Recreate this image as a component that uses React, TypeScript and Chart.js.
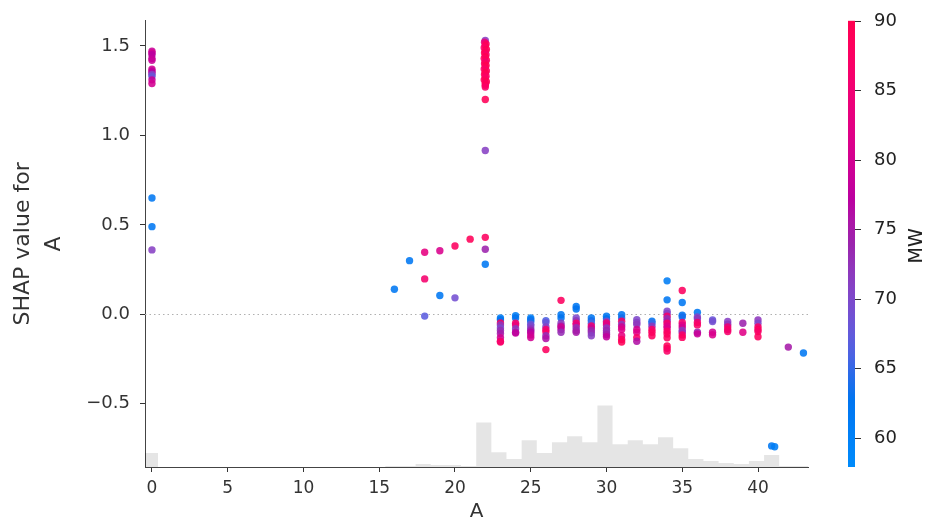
import React, { useEffect, useRef } from 'react';
import { Chart, registerables } from 'chart.js';

Chart.register(...registerables);
Chart.defaults.font.family = "'DejaVu Sans', sans-serif";

// ---------- axis ranges & ticks ----------
const xRange = [-0.46, 43.3];
const yRange = [-0.853, 1.64];
const mwRange = [57.9, 90];
const mwTickValues = [60, 65, 70, 75, 80, 85, 90];
const yAxisTitle = ['SHAP value for', 'A'];
const xAxisTitle = 'A';
const colorTitle = 'MW';

// ---------- histogram of A (bin left edges, counts) ----------
const histEdges = [-0.6, 0.4, 15.4, 16.4, 17.4, 18.4, 19.4, 20.4, 21.4, 22.4, 23.4, 24.4, 25.4, 26.4, 27.4, 28.4, 29.4, 30.4, 31.4, 32.4, 33.4, 34.4, 35.4, 36.4, 37.4, 38.4, 39.4, 40.4, 41.4, 42.4, 43.4];
const histCounts = [14, 0, 1, 1, 3, 2, 2, 1, 45, 15, 8, 27, 14, 25, 31, 25, 62, 23, 27, 23, 30, 19, 8, 6, 4, 3, 6, 12, 1, 1, 0];

// ---------- scatter points: A value, SHAP value, MW (colour) ----------
const aValues = [
  // A = 0
  0, 0, 0, 0, 0, 0, 0, 0, 0, 0, 0, 0, 0, 0, 0,
  // A = 16..21
  16, 17, 18, 18, 18, 19, 19, 20, 20, 21,
  // A = 22
  22, 21.95, 22.05, 22, 21.93, 22.07, 22, 21.95, 22.05, 22, 21.93, 22.07,
  22, 21.95, 22.05, 22, 21.93, 22.07, 22, 21.95, 22.05, 22, 21.93, 22.07,
  22, 22, 22, 22, 22, 22, 22, 22,
  // A = 23
  23, 23, 23, 23, 23, 23, 23, 23, 23, 23,
  // A = 24
  24, 24, 24, 24, 24, 24, 24,
  // A = 25
  25, 25, 25, 25, 25, 25, 25, 25, 25, 25,
  // A = 26
  26, 26, 26, 26, 26, 26, 26, 26,
  // A = 27
  27, 27, 27, 27, 27, 27, 27, 27,
  // A = 28
  28, 28, 28, 28, 28, 28, 28, 28, 28,
  // A = 29
  29, 29, 29, 29, 29, 29, 29, 29,
  // A = 30
  30, 30, 30, 30, 30, 30, 30, 30, 30, 30,
  // A = 31
  31, 31, 31, 31, 31, 31, 31, 31, 31,
  // A = 32
  32, 32, 32, 32, 32, 32, 32,
  // A = 33
  33, 33, 33, 33, 33, 33,
  // A = 34
  34, 34, 34, 34, 34, 34, 34, 34, 34, 34, 34, 34, 34, 34, 34, 34,
  // A = 35
  35, 35, 35, 35, 35, 35, 35, 35, 35, 35, 35,
  // A = 36
  36, 36, 36, 36, 36, 36, 36,
  // A = 37
  37, 37, 37, 37,
  // A = 38
  38, 38, 38, 38, 38,
  // A = 39
  39, 39,
  // A = 40
  40, 40, 40, 40, 40, 40,
  // A = 41..43
  40.9, 41.1, 42, 43,
];

const shapValues = [
  // A = 0
  1.47, 1.46, 1.45, 1.43, 1.42, 1.37, 1.36, 1.35, 1.34, 1.33, 1.31, 1.29, 0.65, 0.49, 0.36,
  // A = 16..21
  0.14, 0.30, 0.347, 0.198, -0.01, 0.355, 0.105, 0.382, 0.092, 0.42,
  // A = 22
  1.53, 1.52, 1.51, 1.50, 1.49, 1.48, 1.47, 1.46, 1.45, 1.44, 1.43, 1.42,
  1.41, 1.40, 1.39, 1.38, 1.37, 1.36, 1.35, 1.34, 1.33, 1.32, 1.31, 1.30,
  1.29, 1.28, 1.27, 1.20, 0.915, 0.43, 0.364, 0.28,
  // A = 23
  -0.02, -0.03, -0.048, -0.06, -0.076, -0.09, -0.107, -0.13, -0.15, -0.155,
  // A = 24
  -0.007, -0.02, -0.05, -0.06, -0.08, -0.1, -0.105,
  // A = 25
  -0.02, -0.03, -0.04, -0.055, -0.065, -0.08, -0.09, -0.1, -0.115, -0.13,
  // A = 26
  -0.035, -0.045, -0.07, -0.085, -0.098, -0.12, -0.135, -0.197,
  // A = 27
  0.078, -0.002, -0.02, -0.05, -0.065, -0.07, -0.085, -0.1,
  // A = 28
  0.044, 0.03, -0.02, -0.035, -0.05, -0.06, -0.075, -0.09, -0.1,
  // A = 29
  -0.02, -0.035, -0.05, -0.065, -0.076, -0.09, -0.103, -0.12,
  // A = 30
  -0.011, -0.025, -0.039, -0.048, -0.06, -0.076, -0.09, -0.103, -0.113, -0.125,
  // A = 31
  -0.002, -0.02, -0.039, -0.057, -0.07, -0.085, -0.12, -0.14, -0.155,
  // A = 32
  -0.03, -0.045, -0.057, -0.085, -0.1, -0.13, -0.15,
  // A = 33
  -0.039, -0.05, -0.066, -0.085, -0.1, -0.12,
  // A = 34
  0.187, 0.081, 0.017, 0.005, -0.011, -0.025, -0.039, -0.05, -0.065, -0.076, -0.094, -0.11, -0.131, -0.177, -0.19, -0.205,
  // A = 35
  0.133, 0.066, -0.005, -0.015, -0.046, -0.06, -0.074, -0.09, -0.1, -0.115, -0.129,
  // A = 36
  0.011, -0.015, -0.025, -0.045, -0.059, -0.1, -0.109,
  // A = 37
  -0.032, -0.04, -0.1, -0.114,
  // A = 38
  -0.04, -0.055, -0.07, -0.085, -0.096,
  // A = 39
  -0.05, -0.1,
  // A = 40
  -0.032, -0.05, -0.07, -0.085, -0.096, -0.125,
  // A = 41..43
  -0.735, -0.74, -0.183, -0.216,
];

const mwValues = [
  // A = 0
  79, 80, 77, 78, 79, 80, 78, 77, 71, 68, 79, 80, 62, 62, 71,
  // A = 16..21
  62, 62, 83, 86, 67, 81, 62, 88, 69, 89,
  // A = 22
  71, 84, 88, 89, 87, 90, 88, 89, 87, 90, 88, 89,
  86, 88, 90, 89, 87, 88, 90, 89, 88, 87, 89, 90,
  88, 89, 87, 89, 71, 88, 74, 62,
  // A = 23
  61, 63, 88, 72, 70, 73, 75, 80, 83, 87,
  // A = 24
  61, 63, 87, 84, 72, 75, 78,
  // A = 25
  61, 62, 64, 68, 70, 72, 74, 77, 79, 80,
  // A = 26
  66, 68, 71, 86, 87, 73, 76, 88,
  // A = 27
  88, 62, 63, 72, 74, 80, 78, 73,
  // A = 28
  62, 63, 70, 72, 87, 82, 73, 74, 75,
  // A = 29
  62, 64, 66, 86, 80, 74, 73, 71,
  // A = 30
  62, 63, 70, 86, 82, 72, 74, 73, 75, 78,
  // A = 31
  62, 64, 87, 72, 80, 82, 83, 88, 89,
  // A = 32
  70, 71, 72, 80, 82, 87, 76,
  // A = 33
  63, 65, 72, 87, 88, 88,
  // A = 34
  61, 62, 70, 71, 86, 73, 74, 87, 82, 81, 87, 88, 88, 89, 88, 87,
  // A = 35
  88, 62, 63, 64, 87, 82, 80, 72, 73, 87, 88,
  // A = 36
  62, 70, 72, 86, 87, 74, 79,
  // A = 37
  68, 69, 80, 81,
  // A = 38
  71, 72, 85, 87, 86,
  // A = 39
  74, 82,
  // A = 40
  72, 70, 87, 88, 87, 88,
  // A = 41..43
  62, 61, 75, 62,
];

// SHAP "red_blue" colour map (LCH interpolation, blue -> purple -> red)
function redBlue(t: number): [number, number, number] {
  t = Math.min(1, Math.max(0, t));
  const L = t < 0.5 ? 54 + (40 - 54) * (t / 0.5) : 40 + (54 - 40) * ((t - 0.5) / 0.5);
  const C = 70 + 20 * t;
  const h = 4.6588 + (0.35470565 + 2 * Math.PI - 4.6588) * t;
  const a = C * Math.cos(h);
  const b = C * Math.sin(h);
  const fy = (L + 16) / 116;
  const fx = fy + a / 500;
  const fz = fy - b / 200;
  const finv = (f: number) => (f * f * f > 0.008856 ? f * f * f : (f - 16 / 116) / 7.787);
  const X = 0.95047 * finv(fx);
  const Y = finv(fy);
  const Z = 1.08883 * finv(fz);
  const lin = [
    3.2406 * X - 1.5372 * Y - 0.4986 * Z,
    -0.9689 * X + 1.8758 * Y + 0.0415 * Z,
    0.0557 * X - 0.204 * Y + 1.057 * Z,
  ];
  const out = lin.map((v) => {
    const c = v <= 0.0031308 ? 12.92 * v : 1.055 * Math.pow(Math.max(v, 0), 1 / 2.4) - 0.055;
    return Math.round(Math.min(1, Math.max(0, c)) * 255);
  });
  return [out[0], out[1], out[2]];
}

function mwColor(mw: number, alpha = 1): string {
  const [r, g, b] = redBlue((mw - mwRange[0]) / (mwRange[1] - mwRange[0]));
  return `rgba(${r},${g},${b},${alpha})`;
}

const decorPlugin = {
  id: 'decor',
  beforeDatasetsDraw(chart: any) {
    const { ctx, chartArea, scales } = chart;
    const y0 = Math.round(scales.y.getPixelForValue(0)) + 0.5;
    ctx.save();
    ctx.strokeStyle = '#b0b0b0';
    ctx.lineWidth = 1;
    ctx.setLineDash([1.5, 3]);
    ctx.beginPath();
    ctx.moveTo(chartArea.left, y0);
    ctx.lineTo(chartArea.right, y0);
    ctx.stroke();
    ctx.restore();
  },
  afterDraw(chart: any) {
    const { ctx, chartArea, scales } = chart;
    const mw = scales.mw;
    const top = mw.getPixelForValue(mwRange[1]);
    const bottom = mw.getPixelForValue(mwRange[0]);
    const x0 = chartArea.right + 40;
    const w = 7;
    ctx.save();
    const grad = ctx.createLinearGradient(0, bottom, 0, top);
    for (let i = 0; i <= 20; i++) {
      const t = i / 20;
      const [r, g, b] = redBlue(t);
      grad.addColorStop(t, `rgb(${r},${g},${b})`);
    }
    ctx.fillStyle = grad;
    ctx.fillRect(x0, top, w, bottom - top);
    ctx.strokeStyle = '#333';
    ctx.lineWidth = 1;
    ctx.fillStyle = '#222';
    ctx.font = "18px 'DejaVu Sans'";
    ctx.textAlign = 'left';
    ctx.textBaseline = 'middle';
    for (const v of mwTickValues) {
      const y = Math.round(mw.getPixelForValue(v)) + 0.5;
      ctx.beginPath();
      ctx.moveTo(x0 + w, y);
      ctx.lineTo(x0 + w + 6, y);
      ctx.stroke();
      ctx.fillText(String(v), x0 + w + 19, y);
    }
    ctx.translate(917, (top + bottom) / 2 + 2);
    ctx.rotate(-Math.PI / 2);
    ctx.textAlign = 'center';
    ctx.font = "19px 'DejaVu Sans'";
    ctx.fillText(colorTitle, 0, 0);
    ctx.restore();
  },
};

export default function App() {
  const canvasRef = useRef<HTMLCanvasElement | null>(null);

  useEffect(() => {
    const canvas = canvasRef.current;
    if (!canvas) return;
    const points = aValues.map((a, i) => ({ x: a, y: shapValues[i] }));
    const colors = mwValues.map((m) => mwColor(m, 0.88));
    const hist = histEdges.map((e, i) => ({ x: e, y: histCounts[i] }));

    const chart = new Chart(canvas, {
      type: 'scatter',
      data: {
        datasets: [
          {
            type: 'scatter',
            data: points,
            backgroundColor: colors,
            borderWidth: 0,
            pointRadius: 3.7,
            pointHoverRadius: 3.7,
            order: 1,
            xAxisID: 'x',
            yAxisID: 'y',
          } as any,
          {
            type: 'line',
            data: hist,
            stepped: 'before',
            fill: 'origin',
            backgroundColor: 'rgba(0,0,0,0.1)',
            borderWidth: 0,
            borderColor: 'rgba(0,0,0,0)',
            pointRadius: 0,
            order: 2,
            xAxisID: 'x',
            yAxisID: 'y2',
          } as any,
        ],
      },
      options: {
        animation: false,
        responsive: false,
        layout: { padding: { top: 17, right: 121, bottom: 0, left: 0 } },
        plugins: { legend: { display: false }, tooltip: { enabled: false } },
        scales: {
          x: {
            type: 'linear',
            min: xRange[0],
            max: xRange[1],
            afterFit: (s: any) => {
              s.height = 58;
            },
            ticks: {
              stepSize: 5,
              includeBounds: false,
              padding: 6,
              maxRotation: 0,
              color: '#333',
              font: { size: 17 },
              callback: (v: any) => String(v),
            },
            grid: { display: true, drawOnChartArea: false, tickLength: 5, color: '#333' },
            border: { display: true, color: '#444' },
            title: { display: true, text: xAxisTitle, color: '#333', font: { size: 20 }, padding: { top: 0, bottom: 1 } },
          },
          y: {
            type: 'linear',
            min: yRange[0],
            max: yRange[1],
            afterFit: (s: any) => {
              s.width = 145;
            },
            ticks: {
              stepSize: 0.5,
              includeBounds: false,
              padding: 10,
              color: '#333',
              font: { size: 18 },
              callback: (v: any) => Number(v).toFixed(1).replace('-', '\u2212'),
            },
            grid: { display: true, drawOnChartArea: false, tickLength: 5, color: '#333' },
            border: { display: true, color: '#444' },
            title: {
              display: true,
              text: yAxisTitle,
              color: '#333',
              font: { size: 22, lineHeight: 1.4 },
              padding: { top: 8, bottom: 0 },
            },
          },
          y2: { type: 'linear', display: false, min: 0, max: 450 },
          mw: { type: 'linear', axis: 'y', display: false, min: mwRange[0], max: mwRange[1] },
        },
      } as any,
      plugins: [decorPlugin],
    });
    return () => chart.destroy();
  }, []);

  return (
    <div style={{ position: 'absolute', left: 0, top: 0, width: 929, height: 525, background: '#fff' }}>
      <canvas ref={canvasRef} width={929} height={525} style={{ display: 'block' }} />
    </div>
  );
}
